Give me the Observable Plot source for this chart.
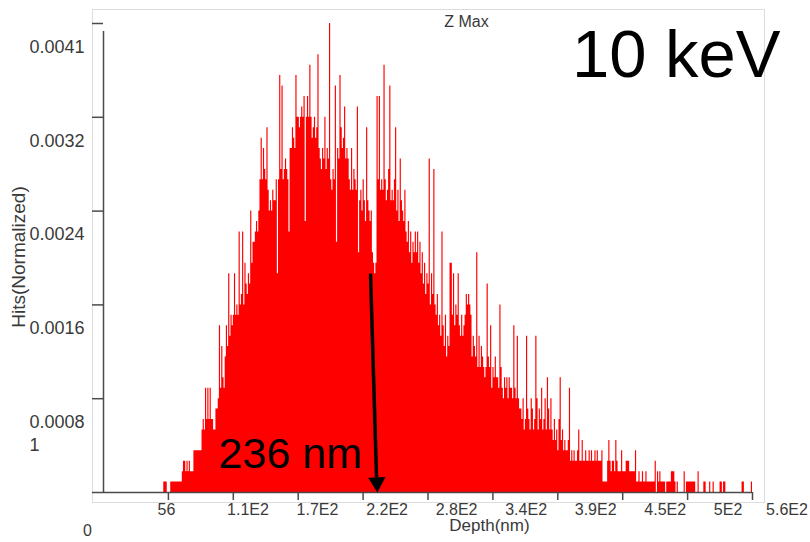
<!DOCTYPE html>
<html>
<head>
<meta charset="utf-8">
<script src="https://cdn.jsdelivr.net/npm/d3@7"></script>
<script src="https://cdn.jsdelivr.net/npm/@observablehq/plot@0.6"></script>
<style>
  html, body { margin: 0; padding: 0; background: #fff; }
  #chart svg { display: block; }
</style>
</head>
<body>
<div id="chart"></div>
<script>
// ---- data ----
const chartTitle = "Z Max";
const energyLabel = "10 keV";
const xAxisTitle = "Depth(nm)";
const yAxisTitle = "Hits(Normalized)";
const originLabel = "0";

const firstDepth = 50;      // nm, left edge of the first 1-nm bin
const hitValue = 0.00009;   // normalized value of one hit
const hits = [
  0,0,1,1,1,0,0,0,1,1,
  1,1,1,1,1,1,1,1,2,3,
  3,2,3,2,3,2,2,2,4,4,
  4,4,4,4,4,6,7,6,10,7,
  10,7,10,7,7,6,6,8,8,9,
  16,10,14,11,10,13,16,14,21,15,
  17,16,17,21,17,18,17,25,18,19,
  25,18,22,20,19,21,20,27,22,24,
  24,25,26,25,27,30,34,30,33,31,
  30,35,29,27,28,27,29,28,28,30,
  21,30,40,31,39,30,31,32,31,30,
  25,33,33,35,34,33,40,36,36,35,
  36,37,36,38,26,36,38,36,41,36,
  34,35,36,34,35,42,33,32,31,33,
  32,36,31,33,32,45,30,29,31,30,
  39,24,33,32,40,35,33,34,37,32,
  33,32,30,29,33,29,31,30,29,37,
  23,28,29,27,30,28,26,35,28,27,
  26,27,23,22,21,22,38,30,38,29,
  30,29,41,30,28,29,31,39,28,29,
  28,30,35,27,29,26,32,28,27,26,
  29,25,24,26,23,25,22,24,23,25,
  23,25,22,24,21,23,20,22,19,21,
  20,32,18,21,19,31,18,17,19,16,
  17,15,25,16,14,17,13,15,14,22,
  22,17,21,16,18,17,21,16,15,17,
  15,16,17,19,18,19,18,17,13,15,
  14,13,23,12,15,12,14,13,12,11,
  12,20,13,12,16,10,12,11,13,11,
  11,10,18,12,10,9,11,10,11,9,
  11,10,10,9,16,10,9,15,9,8,
  8,7,9,6,7,15,8,7,6,9,
  8,6,7,15,9,6,8,7,10,6,
  7,9,6,11,8,6,9,6,5,7,
  5,6,4,7,11,5,6,4,5,4,
  4,5,10,3,4,3,4,3,3,4,
  6,3,3,5,3,3,4,3,3,4,
  3,4,3,3,4,3,4,3,3,3,
  4,1,1,1,1,3,5,3,2,3,
  3,2,5,3,2,2,2,4,2,2,
  2,3,3,3,2,2,2,2,2,4,
  1,1,2,1,1,2,1,1,2,1,
  1,1,1,1,1,1,3,0,2,1,
  2,1,1,1,1,0,1,1,1,1,
  2,2,2,1,0,1,0,0,0,0,
  0,2,0,1,1,1,1,1,1,1,
  1,0,0,2,0,0,0,0,1,1,
  0,0,0,1,0,0,1,0,0,0,
  0,0,1,1,0,1,1,0,0,0,
  0,0,0,0,0,0,0,0,0,0,
  0,1,1,0,0,0,0,0,0,1
];

const xDomain = [0, 560];
const xTicks = [56, 112, 168, 224, 280, 336, 392, 448, 504, 560];
const xTickLabels = ["56", "1.1E2", "1.7E2", "2.2E2", "2.8E2", "3.4E2", "3.9E2", "4.5E2", "5E2", "5.6E2"];
const yDomain = [0, 0.00405];
const yTicks = [0.00081, 0.00162, 0.00243, 0.00324, 0.00405];
const yTickLabels = ["0.0008\n1", "0.0016", "0.0024", "0.0032", "0.0041"];

const markerDepth = 236;             // nm, arrow tip
const markerLabel = "236 nm";
const markerFrom = [230.4, 0.00189]; // arrow tail (depth, value)

// ---- build ----
// step outline of the 1-nm histogram: each bin starts at its depth, closed at the end
const steps = hits.map((h, i) => ({depth: firstDepth + i, value: h * hitValue}));
steps.push({depth: firstDepth + hits.length, value: 0});

const labelStep = 60; // labels are spread evenly, slightly wider than the ticks
const xLabelData = xTickLabels.map((label, i) => ({label, pos: (i + 1) * labelStep}));

const font = "'Liberation Sans', Arial, sans-serif";
const axisColor = "#4a4a4a";
const textColor = "#3a3a3a";

const chart = Plot.plot({
  width: 810,
  height: 542,
  marginLeft: 103,
  marginRight: 58,
  marginTop: 23,
  marginBottom: 50,
  x: {domain: xDomain, axis: null},
  y: {domain: yDomain, axis: null},
  style: {fontFamily: font, background: "#fff", overflow: "visible"},
  marks: [
    Plot.frame({stroke: "#dcdcdc", insetLeft: -11, insetRight: -12, insetTop: -14, insetBottom: -10}),
    Plot.areaY(steps, {x: "depth", y1: 0, y2: "value", curve: "step-after", fill: "#ff0000"}),
    // axes
    Plot.ruleX([0], {y1: 0, y2: yDomain[1], insetBottom: -8, stroke: axisColor, strokeWidth: 1.5}),
    Plot.ruleY([0], {x1: 0, x2: xDomain[1], insetLeft: -11, stroke: axisColor, strokeWidth: 1.5}),
    Plot.ruleY(yTicks, {x1: 0, x2: 0, insetLeft: -11, stroke: axisColor, strokeWidth: 1.5}),
    Plot.ruleX(xTicks, {y1: 0, y2: 0, insetBottom: -8, stroke: axisColor, strokeWidth: 1.5}),
    // tick labels
    Plot.text(yTicks, {x: 0, y: d => d, text: (d, i) => yTickLabels[i], textAnchor: "start", lineAnchor: "top",
      dx: -74, dy: 13, fontSize: 18, lineHeight: 1.28, fill: textColor}),
    Plot.text([originLabel], {x: 0, y: 0, text: d => d, dx: -16, dy: 38, fontSize: 16, fill: textColor}),
    Plot.text(xLabelData.slice(0, -1), {x: "pos", y: 0, text: "label", textAnchor: "start", dx: -15.5, dy: 17,
      fontSize: 16, fill: textColor}),
    Plot.text(xLabelData.slice(-1), {x: "pos", y: 0, text: "label", textAnchor: "end", dx: 9, dy: 17,
      fontSize: 16, fill: textColor}),
    // axis titles
    Plot.text([xAxisTitle], {frameAnchor: "bottom", text: d => d, dx: 61.5, dy: 38, fontSize: 17, fill: textColor}),
    Plot.text([yAxisTitle], {frameAnchor: "left", text: d => d, textAnchor: "middle", rotate: -90, dx: -85,
      dy: -1, fontSize: 19, fill: textColor}),
    Plot.text([chartTitle], {frameAnchor: "top", text: d => d, dx: 38.5, dy: 3.5, lineAnchor: "bottom",
      fontSize: 16, fill: textColor}),
    Plot.text([energyLabel], {frameAnchor: "top-right", text: d => d, textAnchor: "end", lineAnchor: "bottom",
      dx: 28, dy: 53, fontSize: 67, fill: "#000"}),
    // annotation arrow
    Plot.link([markerDepth], {x1: markerFrom[0], y1: markerFrom[1], x2: d => d - 0.4, y2: 0.00013,
      stroke: "#000", strokeWidth: 3.5}),
    Plot.dot([markerDepth], {x: d => d, y: 0, symbol: "triangle", r: 6.5, rotate: 178, dy: -10.1,
      fill: "#000", stroke: "none"}),
    Plot.text([markerLabel], {x: markerDepth, y: 0, text: d => d, textAnchor: "end", lineAnchor: "bottom",
      dx: -15, dy: -25, fontSize: 43, fill: "#000"})
  ]
});
document.getElementById("chart").append(chart);
</script>
</body>
</html>
